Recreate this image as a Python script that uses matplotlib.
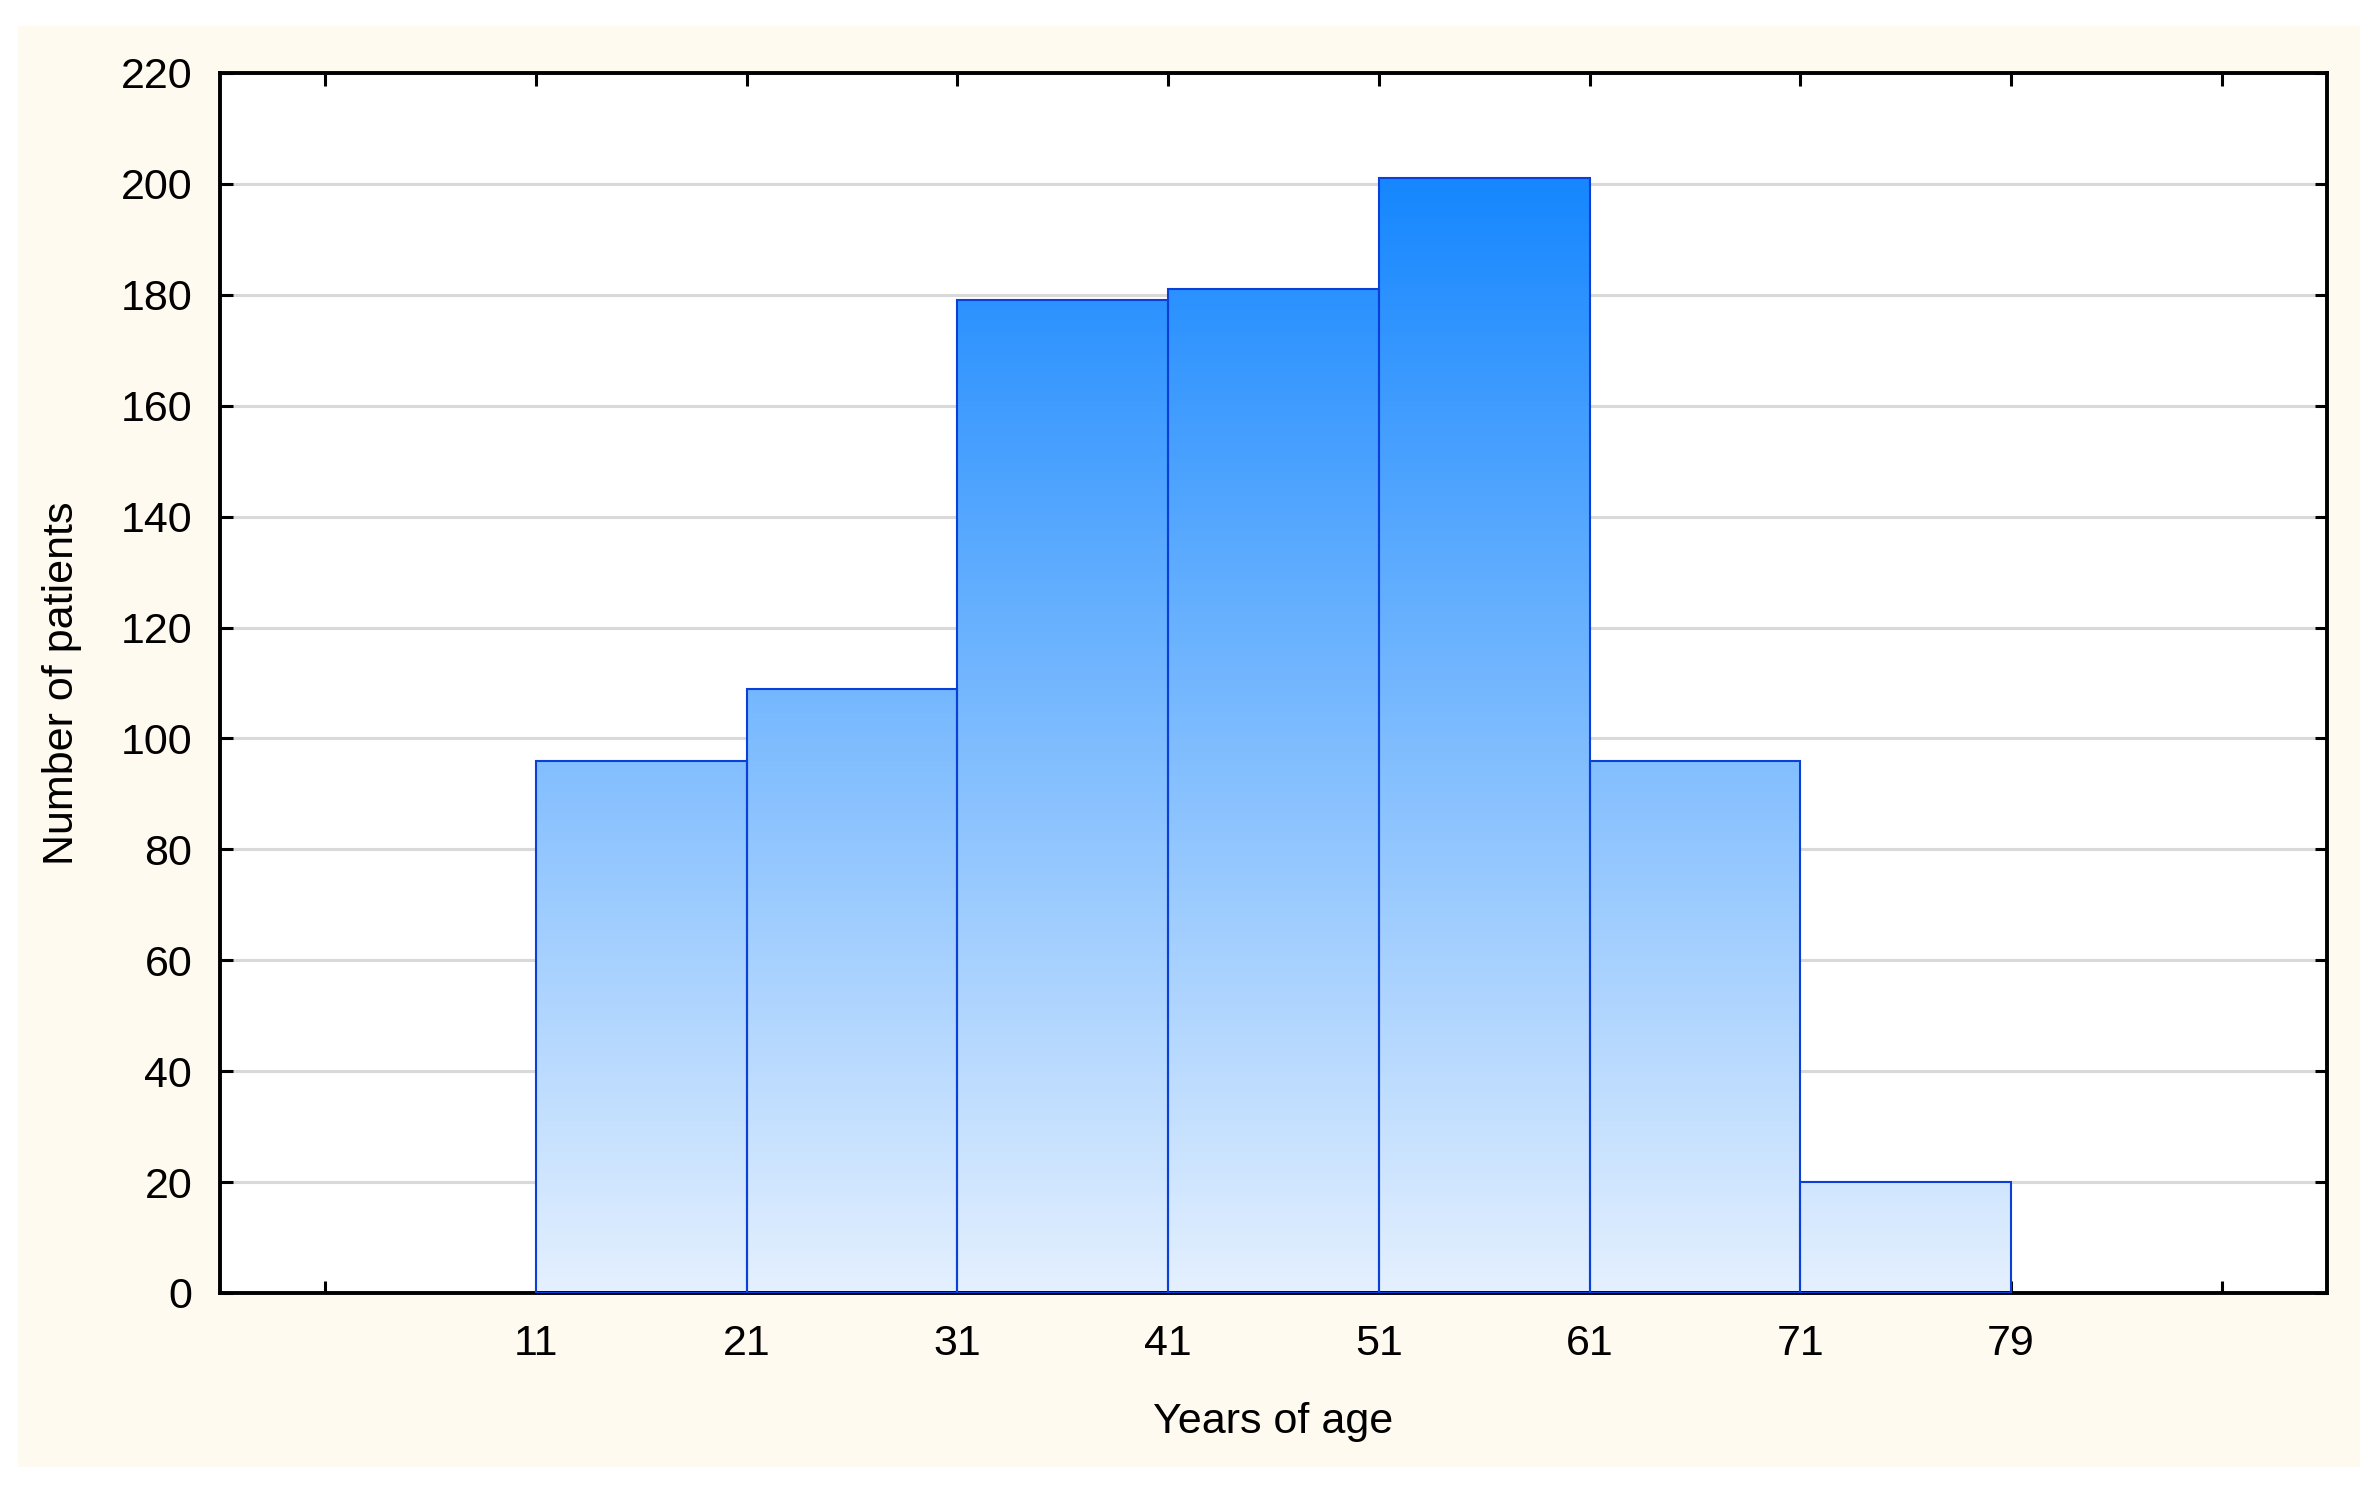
#!/usr/bin/env python3
"""Histogramme de l'âge des patients — barres en dégradé bleu, fond crème."""

import numpy as np
import matplotlib
matplotlib.use("Agg")
import matplotlib.pyplot as plt
from matplotlib.colors import LinearSegmentedColormap
from matplotlib.patches import Rectangle

# données
age_edges = ["11", "21", "31", "41", "51", "61", "71", "79"]
counts = [96, 109, 179, 181, 201, 96, 20]
y_ticks = list(range(0, 221, 20))

W, H, DPI = 2377, 1486, 100
plt.rcParams["font.family"] = ["Liberation Sans", "DejaVu Sans"]

fig = plt.figure(figsize=(W / DPI, H / DPI), dpi=DPI, facecolor="white")
# cadre crème autour du graphe
fig.patches.append(Rectangle((18 / W, 1 - 1467 / H), (2360 - 18) / W, (1467 - 26) / H,
                             transform=fig.transFigure, facecolor="#fffaf0",
                             edgecolor="none", zorder=-10))

ax = fig.add_axes([220 / W, 1 - 1293 / H, (2327 - 220) / W, (1293 - 73) / H])
ax.set_facecolor("white")

# dégradé vertical commun à toutes les barres (bas clair -> haut saturé)
cmap = LinearSegmentedColormap.from_list("blues", ["#e4f0fe", "#1687ff"])
top = max(counts)
grad = np.linspace(0, 1, 256).reshape(-1, 1)

lefts = np.arange(1, len(counts) + 1)
bars = ax.bar(lefts, counts, width=1.0, align="edge", facecolor="none",
              edgecolor="#0a3fd8", linewidth=1.5, zorder=3)
for b in bars:
    x0 = b.get_x()
    im = ax.imshow(grad, cmap=cmap, origin="lower", aspect="auto",
                   extent=(x0, x0 + b.get_width(), 0, top), zorder=2,
                   interpolation="bilinear")
    im.set_clip_path(b)

ax.set_xlim(-0.5, 9.5)
ax.set_ylim(0, 220)
ax.set_xticks(range(10))
ax.set_xticklabels([""] + age_edges + [""])
ax.set_yticks(y_ticks)

ax.yaxis.grid(True, color="#d9d9d9", linewidth=2.2)
ax.set_axisbelow(True)
for sp in ax.spines.values():
    sp.set_linewidth(2.8)
    sp.set_color("black")
ax.tick_params(direction="in", length=9, width=2.2, top=True, right=True,
               labelsize=31, colors="black")
ax.tick_params(axis="x", pad=22)
ax.tick_params(axis="y", pad=20)

ax.set_xlabel("Years of age", fontsize=31, labelpad=28)
ax.set_ylabel("Number of patients", fontsize=31, labelpad=28)

fig.savefig("out.png", dpi=DPI)
